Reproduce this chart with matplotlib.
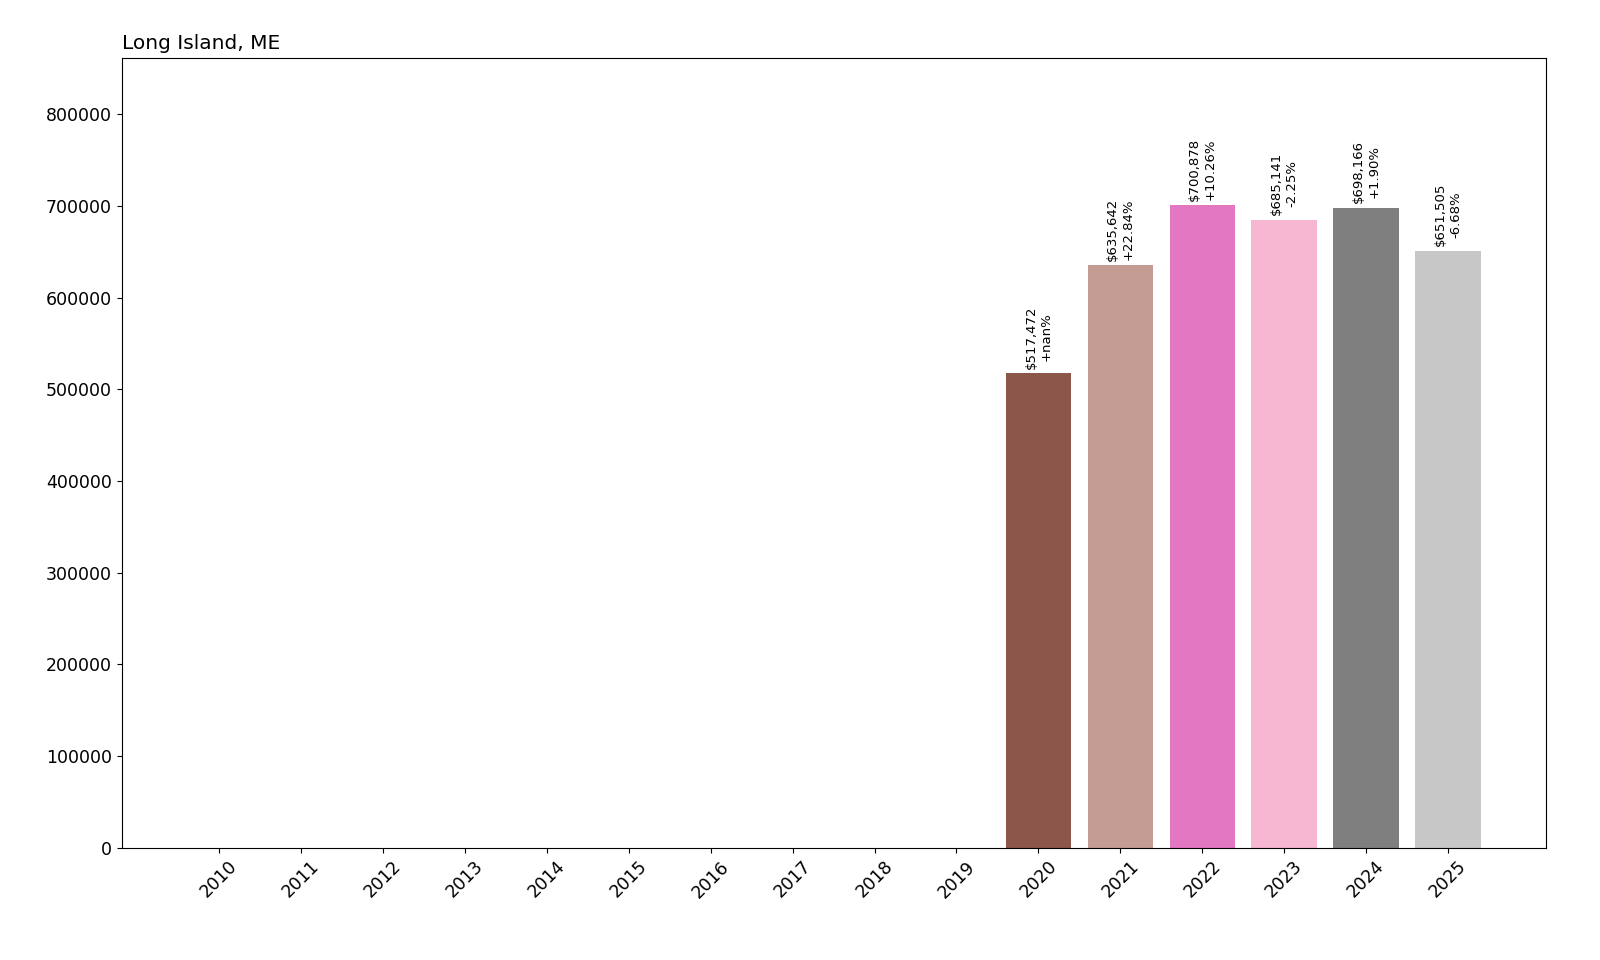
import matplotlib
matplotlib.use("Agg")
import matplotlib.pyplot as plt
import numpy as np

years = [str(y) for y in range(2010, 2026)]
values = [0]*10 + [517472, 635642, 700878, 685141, 698166, 651505]
changes = ["+nan%", "+22.84%", "+10.26%", "-2.25%", "+1.90%", "-6.68%"]

fig, ax = plt.subplots(figsize=(16, 9.6), dpi=100)
fig.subplots_adjust(left=0.076, right=0.966, top=0.94, bottom=0.117)
colors = [plt.cm.tab20(i) for i in range(len(years))]
x = np.arange(len(years))
ax.bar(x, values, color=colors)
for i, c in enumerate(changes):
    j = 10 + i
    ax.text(x[j], values[j] + 5000, f"${values[j]:,}\n{c}", rotation=90,
            ha="center", va="bottom", fontsize=9.5)
ax.set_xticks(x)
ax.set_xticklabels(years, rotation=45, fontsize=12.5)
ax.tick_params(axis="y", labelsize=12.5)
ax.set_ylim(0, max(values) * 1.23)
ax.set_title("Long Island, ME", loc="left", fontsize=14.5)
fig.savefig("out.png")
